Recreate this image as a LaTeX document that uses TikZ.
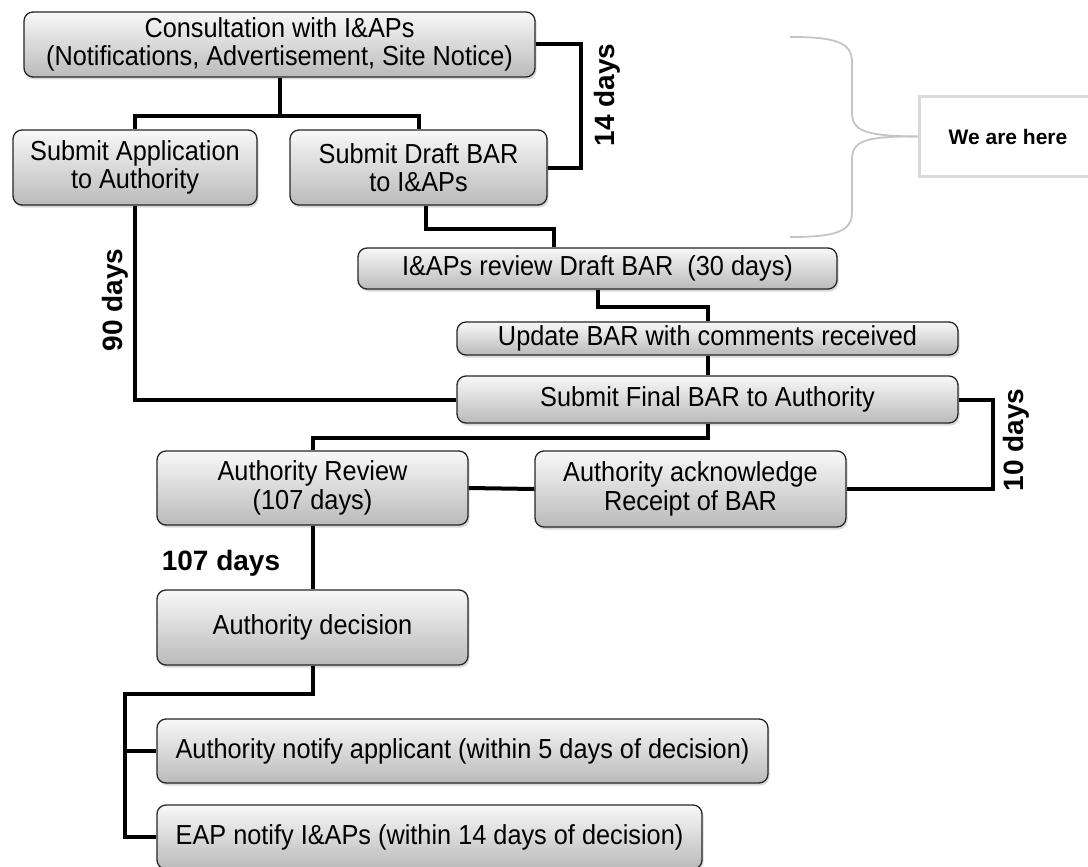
\documentclass[tikz,border=0pt]{standalone}
\usepackage{fontspec}
\setmainfont{Liberation Sans}
\newfontfamily\boxfont[FakeStretch=0.92]{Liberation Sans}
\usetikzlibrary{shadows}
\definecolor{boxtop}{HTML}{F8F8F8}
\definecolor{boxbot}{HTML}{BABABA}
\definecolor{bracegray}{HTML}{C4C4C4}
\definecolor{heregray}{HTML}{D9D9D9}
\begin{document}
\begin{tikzpicture}[x=1pt, y=-1pt,
    box/.style={draw=black!85, line width=1.3pt, rounded corners=9pt, top color=boxtop, bottom color=boxbot,
        drop shadow={opacity=0.3, shadow xshift=1.5pt, shadow yshift=-2.5pt},
        align=center, inner sep=0pt, font=\boxfont\fontsize{27.5}{28.5}\selectfont},
    link/.style={line width=4pt},
    days/.style={font=\bfseries\fontsize{28}{30}\selectfont, inner sep=0pt}]
\useasboundingbox (0,0) rectangle (1088,867);
\node[box, minimum width=511pt, minimum height=65pt] (C) at (279.5,44.5) {Consultation with I\&APs\\(Notifications, Advertisement, Site Notice)};
\node[box, minimum width=244pt, minimum height=75pt] (A) at (135,167.5) {Submit Application\\to Authority};
\node[box, minimum width=257pt, minimum height=75pt] (D) at (418.5,167.5) {Submit Draft BAR\\to I\&APs};
\node[box, minimum width=479pt, minimum height=41pt] (R) at (597.5,268.5) {I\&APs review Draft BAR\ \ (30 days)};
\node[box, minimum width=501pt, minimum height=33pt] (U) at (707.5,338.5) {Update BAR with comments received};
\node[box, minimum width=501pt, minimum height=47pt] (F) at (707.5,399.5) {Submit Final BAR to Authority};
\node[box, minimum width=311pt, minimum height=74pt] (AR) at (312.5,488) {Authority Review\\(107 days)};
\node[box, minimum width=311pt, minimum height=76pt] (AK) at (690.5,489) {Authority acknowledge\\Receipt of BAR};
\node[box, minimum width=311pt, minimum height=75pt] (AD) at (312.5,627.5) {Authority decision};
\node[box, minimum width=611pt, minimum height=64pt] (N) at (462.5,751) {Authority notify applicant (within 5 days of decision)};
\node[box, minimum width=545pt, minimum height=64pt] (E) at (429.5,837) {EAP notify I\&APs (within 14 days of decision)};
\node[draw=heregray, line width=3pt, minimum width=178pt, minimum height=79pt, font=\bfseries\fontsize{21}{24}\selectfont] (H) at (1008,136.5) {We are here};

\node[days, rotate=90] (d14) at (607,95) {14 days};
\node[days, rotate=90] (d90) at (115,300) {90 days};
\node[days, rotate=90] (d10) at (1016,440) {10 days};
\node[days] (d107) at (221,563) {107 days};
\coordinate (bus) at (125,694);

\draw[link] (C.south) -- ++(0,38) coordinate (j1) -| (A.north);
\draw[link] (j1) -| (D.north);
\draw[link] (C.east) -- ++(45,0) |- (D.east);
\draw[link] ([xshift=7pt]D.south) -- ++(0,23) -| ([xshift=-44pt]R.north);
\draw[link] (R.south) -- ++(0,17) -| (U.north);
\draw[link] (U.south) -- (F.north);
\draw[link] (A.south) |- (F.west);
\draw[link] (F.south) -- ++(0,14) -| (AR.north);
\draw[link] (F.east) -- ++(34,0) |- (AK.east);
\draw[link] (AR.east) -- (AK.west);
\draw[link] (AR.south) -- (AD.north);
\draw[link] (AD.south) |- (bus) |- (E.west);
\draw[link] (bus) |- (N.west);
\draw[bracegray, line width=1.8pt] (790,37) .. controls (835,37) and (852,42) .. (852,62) -- (852,112) .. controls (852,130) and (862,136) .. (H.west);
\draw[bracegray, line width=1.8pt] (H.west) .. controls (862,136) and (852,142) .. (852,160) -- (852,212) .. controls (852,232) and (835,237) .. (790,237);
\end{tikzpicture}
\end{document}
